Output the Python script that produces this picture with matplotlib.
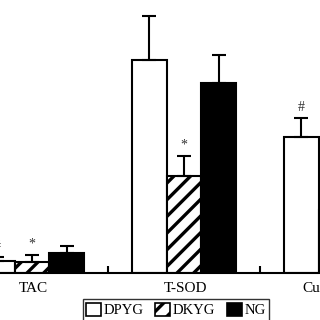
import matplotlib
matplotlib.use("Agg")
import matplotlib.pyplot as plt
import numpy as np
from matplotlib.patches import Patch

plt.rcParams['font.family'] = ['Liberation Serif', 'DejaVu Serif']
plt.rcParams['hatch.linewidth'] = 2.4

# values (arbitrary units)
groups = ['TAC', 'T-SOD', 'CuZn-SOD']
dpyg = [4.4, 78.0, 49.8]
dpyg_err = [1.5, 16.1, 7.0]
dkyg = [4.0, 35.5, 23.1]
dkyg_err = [2.6, 7.4, 5.0]
ng = [7.3, 69.6, 40.0]
ng_err = [2.6, 10.3, 6.0]
dpyg_marks = ['#', '', '#']
dkyg_marks = ['*', '*', '']

x = np.arange(len(groups))
w = 0.228

fig = plt.figure(figsize=(3.2, 3.2), dpi=100)
ax = fig.add_axes([0, 1 - 273 / 320, 1, 273 / 320])

err_kw = dict(ecolor='black', elinewidth=1.5, capsize=5, capthick=1.5)
ax.bar(x - w, dpyg, w, color='white', edgecolor='black', linewidth=1.5,
       yerr=[np.zeros(3), dpyg_err], error_kw=err_kw, label='DPYG')
ax.bar(x, dkyg, w, color='white', edgecolor='black', linewidth=1.5, hatch='//',
       yerr=[np.zeros(3), dkyg_err], error_kw=err_kw, label='DKYG')
ax.bar(x + w, ng, w, color='black', edgecolor='black', linewidth=1.5,
       yerr=[np.zeros(3), ng_err], error_kw=err_kw, label='NG')

for i in range(len(groups)):
    if dpyg_marks[i]:
        ax.text(x[i] - w, dpyg[i] + dpyg_err[i] + 1.5, dpyg_marks[i],
                ha='center', va='bottom', fontsize=10, color='#333333')
    if dkyg_marks[i]:
        ax.text(x[i], dkyg[i] + dkyg_err[i] + 1.5, dkyg_marks[i],
                ha='center', va='bottom', fontsize=10, color='#333333')

for s in ['left', 'right', 'top']:
    ax.spines[s].set_visible(False)
ax.spines['bottom'].set_linewidth(1.5)
ax.set_yticks([])
ax.set_xticks([])
ax.set_xticks([0.5, 1.5], minor=True)
ax.tick_params(axis='x', which='minor', direction='in', length=5, width=1.5)
ax.set_xlim(-32 / 152, 288 / 152)
ax.set_ylim(0, 100)

# group labels as plain text so the last one is cut by the figure edge
for i, g in enumerate(groups):
    ax.text(x[i] + 0.01, -0.055, g, transform=ax.get_xaxis_transform(),
            ha='center', va='center', fontsize=11, clip_on=False)

handles = [Patch(facecolor='white', edgecolor='black', linewidth=1.2, label='DPYG'),
           Patch(facecolor='white', edgecolor='black', linewidth=1.2, hatch='//', label='DKYG'),
           Patch(facecolor='black', edgecolor='black', linewidth=1.2, label='NG')]
leg = fig.legend(handles=handles, ncol=3, loc='center',
                 bbox_to_anchor=(176 / 320, 1 - 310 / 320), fontsize=10.5,
                 frameon=True, fancybox=False, edgecolor='black',
                 handlelength=1.0, handleheight=1.0, handletextpad=0.2,
                 columnspacing=0.8, borderpad=0.25)
leg.get_frame().set_linewidth(1.0)

fig.savefig('out.png', dpi=100)
